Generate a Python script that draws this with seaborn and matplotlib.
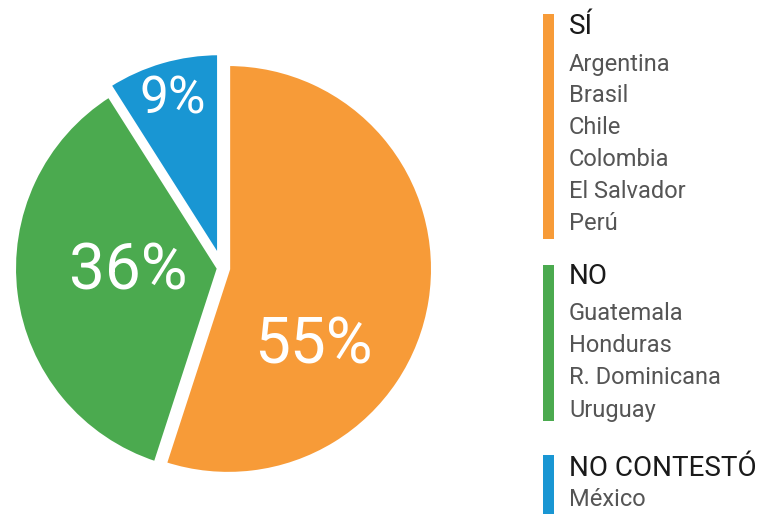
import matplotlib
matplotlib.use("Agg")
import matplotlib.pyplot as plt
import seaborn as sns

# Data
groups = ["SÍ", "NO", "NO CONTESTÓ"]
shares = [55, 36, 9]
colors = ["#F79B38", "#4BAA4F", "#1996D3"]
countries = [
    ["Argentina", "Brasil", "Chile", "Colombia", "El Salvador", "Perú"],
    ["Guatemala", "Honduras", "R. Dominicana", "Uruguay"],
    ["México"],
]

sns.set_theme(style="white")
plt.rcParams["font.family"] = ["Roboto", "DejaVu Sans"]

W, H = 762, 514
fig = plt.figure(figsize=(W / 100, H / 100), dpi=100)

# pie axes: center at (222, 268) px, radius 205 px
R = 205
cx, cy = 222, H - 268
ax = fig.add_axes([0, 0, 444 / W, 1])
ax.pie(
    shares,
    colors=colors,
    startangle=90,
    counterclock=False,
    explode=[0.03, 0.015, 0.05],
    wedgeprops=dict(edgecolor="white", linewidth=3),
)
ax.set_xlim(-cx / R, (444 - cx) / R)
ax.set_ylim(-cy / R, (H - cy) / R)
ax.set_aspect("auto")
ax.axis("off")

# percentage labels (pixel positions of label centres)
label_pos = [(313, 345, 46), (128, 272, 46), (173, 100, 37)]
for v, (px, py, fs) in zip(shares, label_pos):
    fig.text(px / W, 1 - py / H, f"{v}%", color="white", fontsize=fs,
             fontweight="normal", ha="center", va="center")

# legend blocks
bar_spans = [(14, 239), (265, 421), (455, 514)]
head_y = [27, 277, 469]
for g, col, (y0, y1), hy, names in zip(groups, colors, bar_spans, head_y, countries):
    fig.patches.append(plt.Rectangle((543 / W, 1 - y1 / H), 11 / W, (y1 - y0) / H,
                                     transform=fig.transFigure, color=col, lw=0))
    fig.text(569 / W, 1 - hy / H, g, fontsize=20, color="#1a1a1a",
             ha="left", va="center")
    for i, name in enumerate(names):
        y = min(hy + 37 + 32 * i, 499)
        fig.text(569 / W, 1 - y / H, name, fontsize=17, color="#555555",
                 ha="left", va="center")

fig.savefig("out.png", dpi=100)
